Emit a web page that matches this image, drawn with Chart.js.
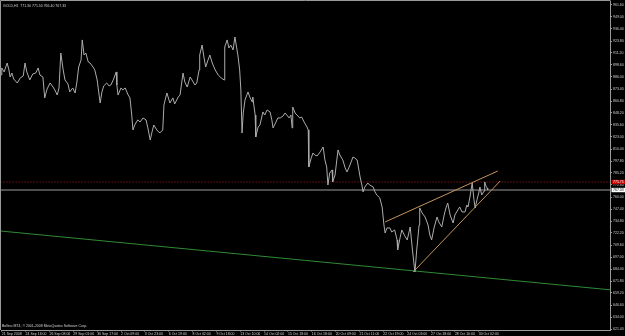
<!DOCTYPE html>
<html>
<head>
<meta charset="utf-8">
<title>GOLD,H1</title>
<script src="https://cdn.jsdelivr.net/npm/chart.js@4.4.1/dist/chart.umd.min.js"></script>
<style>
  html, body { margin: 0; padding: 0; background: #000; }
  canvas { display: block; }
</style>
</head>
<body>
<canvas id="chart" width="625" height="336"></canvas>
<script>
// header / footer text
var symbol = 'GOLD,H1';
var ohlc = ['771.30', '771.50', '766.40', '767.33'];
var copyright = 'Bollino MT4, \u00a9 2001-2008 MetaQuotes Software Corp.';

// H1 bar number (0 = first labelled bar) and close price
var bars = [
    -1, 0, 4, 9, 12, 14, 17, 20, 26, 31,
    36, 39, 42, 47, 52, 57, 61, 64, 69, 72,
    76, 81, 86, 89, 93, 96, 99, 103, 106, 111,
    114, 119, 123, 126, 129, 133, 135, 138, 141, 145,
    148, 153, 156, 160, 165, 168, 171, 176, 180, 183,
    187, 192, 193, 195, 200, 203, 207, 212, 215, 218,
    220, 223, 228, 232, 237, 242, 245, 249, 252, 255,
    260, 265, 270, 272, 274, 277, 282, 287, 290, 296,
    299, 304, 307, 311, 316, 319, 324, 327, 331, 332,
    336, 339, 342, 346, 349, 353, 358, 363, 368, 373,
    374, 378, 381, 384, 388, 391, 394, 396, 399, 401,
    403, 405, 408, 411, 413, 416, 420, 421, 425, 426,
    430, 433, 438, 441, 445, 450, 453, 455, 460, 463,
    467, 472, 475, 478, 482, 485, 487, 488, 492, 495,
    500, 503, 507, 510, 512, 514, 515, 519, 522, 525,
    529, 534, 539, 542, 545, 547, 550, 554, 555, 559,
    562, 564, 567, 572, 576, 579, 582, 586, 589, 592,
    596, 599, 601, 604, 606, 609, 614, 617, 623, 626,
    629, 634, 638, 641, 643, 646, 651, 654, 659, 663,
    664, 668, 671, 676, 680, 685, 688, 691, 693, 696,
    700, 701, 705, 710, 715, 718, 721, 725, 730, 733,
    738, 742, 745, 748, 752, 757, 760, 765, 768, 772,
    777, 780, 782, 785, 789, 792, 794, 797, 800, 802,
    805, 809, 810, 812, 814, 815
];
var gold = [
    888.1, 895.5, 891.3, 900.7, 893.4, 886.0, 890.2, 883.9, 879.7, 885.0,
    887.1, 900.7, 891.3, 882.9, 889.2, 890.2, 895.5, 888.1, 886.0, 864.0,
    873.4, 879.7, 875.5, 872.4, 867.1, 874.5, 911.2, 893.4, 882.9, 878.7,
    870.3, 874.5, 869.2, 880.8, 896.5, 903.9, 924.9, 909.1, 911.2, 901.8,
    900.7, 896.5, 893.4, 882.9, 858.7, 870.3, 876.6, 879.7, 876.6, 877.6,
    882.9, 891.3, 877.6, 867.1, 874.5, 872.4, 874.5, 867.1, 864.0, 846.1,
    830.4, 835.6, 840.9, 838.8, 843.0, 840.9, 832.5, 819.9, 828.3, 835.6,
    830.4, 827.2, 830.4, 856.6, 861.9, 869.2, 858.7, 864.0, 857.7, 865.0,
    867.1, 890.2, 880.8, 875.5, 886.0, 882.9, 877.6, 879.7, 893.4, 909.1,
    919.6, 907.0, 896.5, 903.9, 909.1, 900.7, 893.4, 888.1, 885.0, 882.9,
    917.5, 924.9, 916.5, 919.6, 914.4, 928.0, 916.5, 909.1, 893.4, 872.4,
    827.2, 848.2, 861.9, 867.1, 870.3, 865.0, 859.8, 865.0, 846.1, 823.0,
    833.5, 835.6, 849.3, 846.1, 851.4, 849.3, 840.9, 832.5, 838.8, 843.0,
    843.0, 845.1, 848.2, 846.1, 843.0, 846.1, 832.5, 854.5, 848.2, 846.1,
    843.0, 844.0, 838.8, 835.6, 833.5, 830.4, 791.5, 801.0, 806.2, 804.1,
    803.1, 807.3, 812.5, 798.9, 791.5, 772.6, 785.2, 788.4, 775.8, 783.1,
    798.9, 809.4, 804.1, 798.9, 790.5, 786.3, 790.5, 796.8, 802.0, 801.0,
    798.9, 788.4, 781.0, 772.6, 765.3, 770.5, 774.7, 772.6, 770.5, 765.3,
    762.1, 759.0, 749.5, 730.6, 722.2, 727.5, 727.5, 723.3, 725.4, 714.9,
    704.4, 717.0, 725.4, 719.1, 714.9, 728.5, 709.6, 691.8, 681.3, 704.4,
    730.6, 748.5, 743.2, 739.0, 730.6, 720.1, 714.9, 727.5, 739.0, 733.8,
    728.5, 741.1, 748.5, 753.7, 741.1, 732.7, 741.1, 746.4, 749.5, 744.3,
    744.3, 751.6, 749.5, 759.0, 774.7, 756.9, 748.5, 756.9, 764.2, 770.5,
    762.1, 766.2, 775.8, 771.6, 769.5, 767.3
];

// time axis: one label every 40 bars
var timeLabels = [
    '21 Sep 2008', '24 Sep 16:00', '26 Sep 08:00', '29 Sep 01:00', '30 Sep 17:00',
    '2 Oct 09:00', '3 Oct 23:00', '6 Oct 19:00', '8 Oct 02:00', '9 Oct 18:00',
    '13 Oct 10:00', '14 Oct 02:00', '15 Oct 18:00', '16 Oct 18:00', '20 Oct 09:00',
    '21 Oct 11:00', '22 Oct 19:00', '24 Oct 03:00', '27 Oct 18:00', '28 Oct 10:00',
    '30 Oct 02:00'
];
var barsPerLabel = 40;

// price axis labels
var priceTicks = [
    621.40, 634.00, 646.60, 659.20, 671.80, 684.40, 697.00, 709.60, 722.20, 734.80,
    747.40, 760.00, 772.60, 785.20, 797.80, 810.40, 823.00, 835.60, 848.20, 860.80,
    873.40, 886.00, 898.60, 911.20, 923.80, 936.40, 949.00, 961.60
];

// drawn objects
var greenX = [-2, 1021];
var greenY = [724.3, 662.5];
var channelTopX = [643, 832];
var channelTopY = [733.8, 787.3];
var channelLowX = [690, 836];
var channelLowY = [681.3, 776.8];
var levelX = [-2, 1021];
var redLevel = 775.75;
var bidLevel = 767.33;

var txt_color = '#d0d0d0';
var frame_color = '#9a9a9a';
var small_font = '3.5px "Liberation Sans"';

function pts(xs, ys) {
    return xs.map(function (x, i) { return {x: x, y: ys[i]}; });
}

var mt4Frame = {
    id: 'mt4Frame',
    beforeDraw: function (chart) {
        var ctx = chart.ctx;
        ctx.save();
        ctx.fillStyle = '#000';
        ctx.fillRect(0, 0, chart.width, chart.height);
        ctx.restore();
    },
    afterDraw: function (chart) {
        var ctx = chart.ctx;
        var a = chart.chartArea;
        var y = chart.scales.y;
        ctx.save();
        ctx.strokeStyle = frame_color;
        ctx.lineWidth = 1;
        ctx.beginPath();
        ctx.moveTo(a.left - 0.5, a.bottom);
        ctx.lineTo(a.left - 0.5, a.top - 0.5);
        ctx.lineTo(a.right, a.top - 0.5);
        ctx.stroke();

        ctx.font = small_font;
        ctx.fillStyle = txt_color;
        ctx.textBaseline = 'middle';
        ctx.textAlign = 'left';
        ctx.fillText(symbol + '  ' + ohlc.join(' '), a.left + 2, a.top + 5);
        ctx.fillText(copyright, a.left + 1, a.bottom - 4);

        // price boxes on the axis
        var yr = y.getPixelForValue(redLevel);
        ctx.fillStyle = '#c00000';
        ctx.fillRect(a.right + 1, yr - 2.2, chart.width - a.right - 1, 4.4);
        ctx.fillStyle = '#ffffff';
        ctx.fillText(redLevel.toFixed(2), a.right + 2.5, yr);

        var yb = y.getPixelForValue(bidLevel);
        ctx.fillStyle = '#ffffff';
        ctx.fillRect(a.right + 1, yb - 2.2, chart.width - a.right - 1, 4.4);
        ctx.fillStyle = '#000000';
        ctx.fillText(bidLevel.toFixed(2), a.right + 2.5, yb);
        ctx.restore();
    }
};

var cfg = {
    type: 'line',
    data: {
        datasets: [
            {
                data: pts(bars, gold),
                borderColor: '#acacac',
                borderWidth: 1,
                pointRadius: 0,
                tension: 0
            },
            {
                data: pts(channelTopX, channelTopY),
                borderColor: '#c4955f',
                borderWidth: 1,
                pointRadius: 0
            },
            {
                data: pts(channelLowX, channelLowY),
                borderColor: '#c4955f',
                borderWidth: 1,
                pointRadius: 0
            },
            {
                data: pts(greenX, greenY),
                borderColor: '#2f8a35',
                borderWidth: 1,
                pointRadius: 0
            },
            {
                data: pts(levelX, [redLevel, redLevel]),
                borderColor: '#b01c1c',
                borderWidth: 1,
                borderDash: [1, 2],
                pointRadius: 0
            },
            {
                data: pts(levelX, [bidLevel, bidLevel]),
                borderColor: '#9c9c9c',
                borderWidth: 1,
                pointRadius: 0
            }
        ]
    },
    options: {
        responsive: false,
        animation: false,
        devicePixelRatio: 1,
        layout: { padding: { top: 1, left: 1, right: 0, bottom: 0 } },
        scales: {
            x: {
                type: 'linear',
                position: 'bottom',
                min: -1.3,
                max: 1021,
                afterBuildTicks: function (scale) {
                    scale.ticks = timeLabels.map(function (t, i) { return {value: i * barsPerLabel}; });
                },
                afterFit: function (scale) {
                    scale.height = 6;
                    scale.paddingLeft = 0;
                    scale.paddingRight = 0;
                },
                ticks: {
                    autoSkip: false,
                    maxRotation: 0,
                    minRotation: 0,
                    align: 'start',
                    padding: 0,
                    color: txt_color,
                    font: { family: 'Liberation Sans', size: 3.5 },
                    callback: function (v, i) { return timeLabels[i]; }
                },
                grid: { drawOnChartArea: false, drawTicks: true, tickLength: 1.5, color: frame_color },
                border: { display: true, color: frame_color }
            },
            y: {
                type: 'linear',
                position: 'right',
                min: 620.35,
                max: 965.8,
                afterBuildTicks: function (scale) {
                    scale.ticks = priceTicks.map(function (v) { return {value: v}; });
                },
                afterFit: function (scale) {
                    scale.width = 14.5;
                    scale.paddingTop = 0;
                    scale.paddingBottom = 0;
                },
                ticks: {
                    autoSkip: false,
                    padding: 1,
                    color: txt_color,
                    font: { family: 'Liberation Sans', size: 3.5 },
                    callback: function (v) { return v.toFixed(2); }
                },
                grid: { drawOnChartArea: false, drawTicks: true, tickLength: 1.5, color: frame_color },
                border: { display: true, color: frame_color }
            }
        },
        plugins: {
            legend: { display: false },
            tooltip: { enabled: false },
            title: { display: false }
        }
    },
    plugins: [mt4Frame]
};

var ctx = document.getElementById('chart');
const chart = new Chart(ctx, cfg);
</script>
</body>
</html>
